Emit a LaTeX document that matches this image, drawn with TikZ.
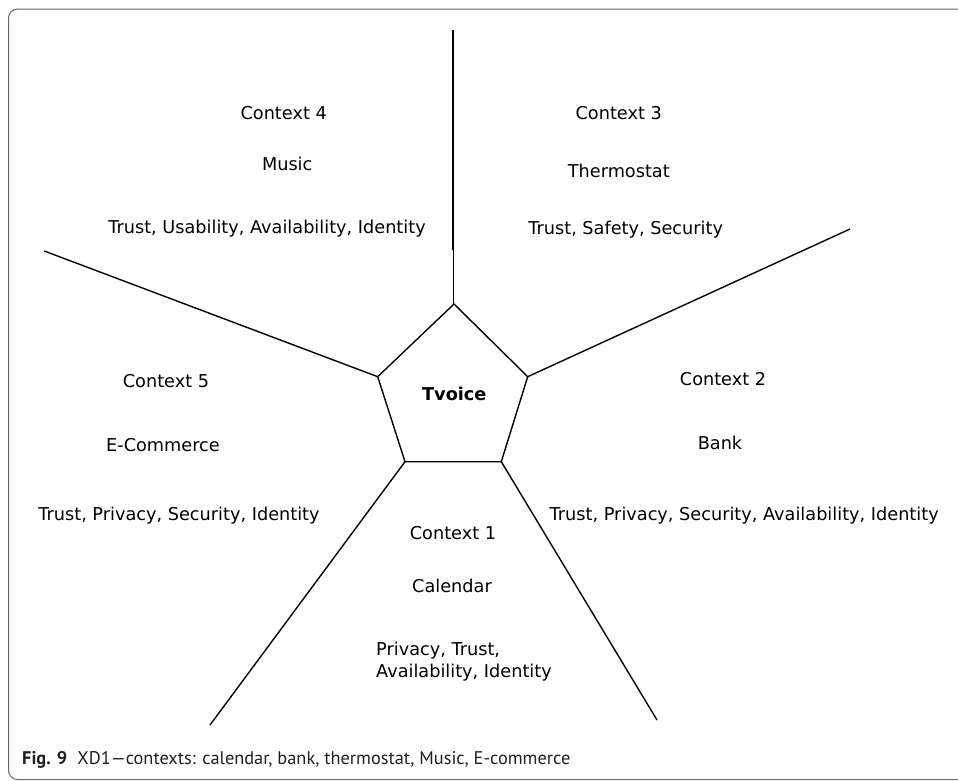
\documentclass[tikz,border=0pt]{standalone}
\usepackage{fontspec}
\setmainfont{DejaVu Sans}
\newfontfamily\capfont{PT Sans}
\begin{document}
\begin{tikzpicture}[x=1pt,y=-1pt,
  lbl/.style={anchor=base,inner sep=0pt,font=\fontsize{17.7}{21.3}\selectfont},
  edge/.style={line width=1.4pt,black},
  frame/.style={draw=black!60,line width=1pt,rounded corners=9pt}]
\useasboundingbox (0,0) rectangle (958,780);
\clip (0,0) rectangle (958,780);
\draw[frame] (8.5,9) rectangle (980,779.5);
% pentagon
\coordinate (pt) at (454,304);
\coordinate (pur) at (527.7,376.7);
\coordinate (plr) at (501.3,461.7);
\coordinate (pll) at (405,461.7);
\coordinate (pul) at (377.7,376.7);
\draw[edge,line join=miter] (pt) -- (pur) -- (plr) -- (pll) -- (pul) -- cycle;
\node[lbl,font=\fontsize{17.7}{21.3}\selectfont\bfseries] (tv) at (454.3,400.8) {Tvoice};
% spokes
\coordinate (ttop) at (452.8,30);
\coordinate (tmid) at (452.8,250);
\coordinate (tmid2) at (453.7,250);
\coordinate (tbot) at (453.7,304);
\coordinate (eur) at (850,229);
\coordinate (eul) at (44.3,251);
\coordinate (ell) at (210,725);
\coordinate (elr) at (657,720);
\draw[line width=2pt] (ttop) -- (tmid);
\draw[line width=1.3pt] (tmid2) -- (tbot);
\draw[edge] (pur) -- (eur);
\draw[edge] (pul) -- (eul);
\draw[edge] (pll) -- (ell);
\draw[edge] (plr) -- (elr);
% context 4
\node[lbl] (c4) at (283.7,119.8) {Context 4};
\node[lbl] (c4a) at (287.2,170.5) {Music};
\node[lbl] (c4b) at (267,233.8) {Trust, Usability, Availability, Identity};
% context 3
\node[lbl] (c3) at (618.7,119.8) {Context 3};
\node[lbl] (c3a) at (618.8,177.2) {Thermostat};
\node[lbl] (c3b) at (625.7,234.5) {Trust, Safety, Security};
% context 5
\node[lbl] (c5) at (166,387.5) {Context 5};
\node[lbl] (c5a) at (163,451.5) {E-Commerce};
\node[lbl] (c5b) at (179,520.5) {Trust, Privacy, Security, Identity};
% context 2
\node[lbl] (c2) at (723,385.5) {Context 2};
\node[lbl] (c2a) at (720,449.5) {Bank};
\node[lbl] (c2b) at (744.2,520.5) {Trust, Privacy, Security, Availability, Identity};
% context 1
\node[lbl] (c1) at (453,539.5) {Context 1};
\node[lbl] (c1a) at (452,592) {Calendar};
\node[lbl,anchor=base west,align=left] (c1b) at (376,677) {Privacy, Trust,\\Availability, Identity};
% caption
\node[anchor=base west,inner sep=0pt,text=black!88] (cap) at (22,764)
  {\resizebox{548pt}{!}{\capfont\textbf{Fig. 9}\hspace{0.55em}XD1—contexts: calendar, bank, thermostat, Music, E-commerce}};
\end{tikzpicture}
\end{document}
